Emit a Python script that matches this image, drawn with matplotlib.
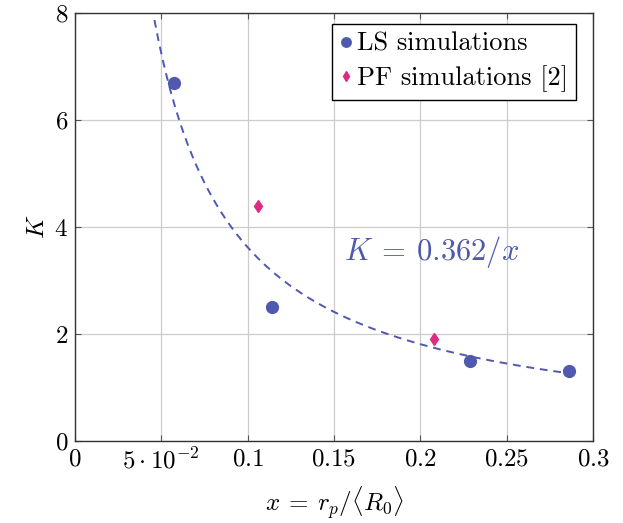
import numpy as np
import matplotlib
matplotlib.use("Agg")
import matplotlib.pyplot as plt

plt.rcParams['mathtext.fontset'] = 'cm'
plt.rcParams['font.family'] = ['cmr10', 'DejaVu Sans']
plt.rcParams['axes.unicode_minus'] = False

# LS simulation results
ls_x = [0.0571, 0.1143, 0.2287, 0.2860]
ls_k = [6.70, 2.50, 1.50, 1.30]

# PF simulation results from [2]
pf_x = [0.1058, 0.2080]
pf_k = [4.40, 1.90]

# fitted law K = c / x
fit_c = 0.362
fit_range = (0.046, 0.285)

x_ticks = [0, 0.05, 0.1, 0.15, 0.2, 0.25, 0.3]
x_tick_labels = ['$0$', r'$5\cdot10^{-2}$', '$0.1$', '$0.15$', '$0.2$', '$0.25$', '$0.3$']
y_ticks = [0, 2, 4, 6, 8]

blue = '#4f59ad'
pink = '#df2a82'

fig = plt.figure(figsize=(6.23, 5.23), dpi=100)
ax = fig.add_axes([75 / 623, 82 / 523, 518 / 623, 428 / 523])

xf = np.linspace(fit_range[0], fit_range[1], 200)
ax.plot(xf, fit_c / xf, color=blue, lw=1.4, dashes=(4, 3), zorder=2)
ax.plot(ls_x, ls_k, 'o', color=blue, ms=8.5, label='LS simulations', zorder=3)
ax.plot(pf_x, pf_k, 'd', color=pink, ms=6.5, label='PF simulations [2]', zorder=3)

ax.text(0.156, 3.53, r'$K\:=\:0.362/x$', color=blue, fontsize=22, va='center', ha='left')

ax.set_xlim(0, 0.3)
ax.set_ylim(0, 8)
ax.set_xticks(x_ticks)
ax.set_xticklabels(x_tick_labels)
ax.set_yticks(y_ticks)
ax.set_yticklabels(['$%d$' % v for v in y_ticks])
ax.tick_params(direction='in', top=True, right=True, labelsize=18, length=4,
               color='#555555', pad=5)
ax.grid(True, color='#cccccc', lw=0.9)
ax.set_axisbelow(True)
for s in ax.spines.values():
    s.set_color('#333333')
    s.set_linewidth(1.0)

ax.set_xlabel(r'$x\:=\:r_p/\langle R_0\rangle$', fontsize=18, labelpad=8)
ax.set_ylabel('$K$', fontsize=18, labelpad=4)

leg = ax.legend(loc='upper right', fontsize=19, frameon=True, fancybox=False,
                edgecolor='black', framealpha=1, handlelength=0.45,
                handletextpad=0.2, borderpad=0.3, labelspacing=0.35,
                borderaxespad=0, bbox_to_anchor=(0.967, 0.974),
                markerscale=0.8)
leg.get_frame().set_linewidth(1.0)

fig.savefig('out.png', dpi=100)
